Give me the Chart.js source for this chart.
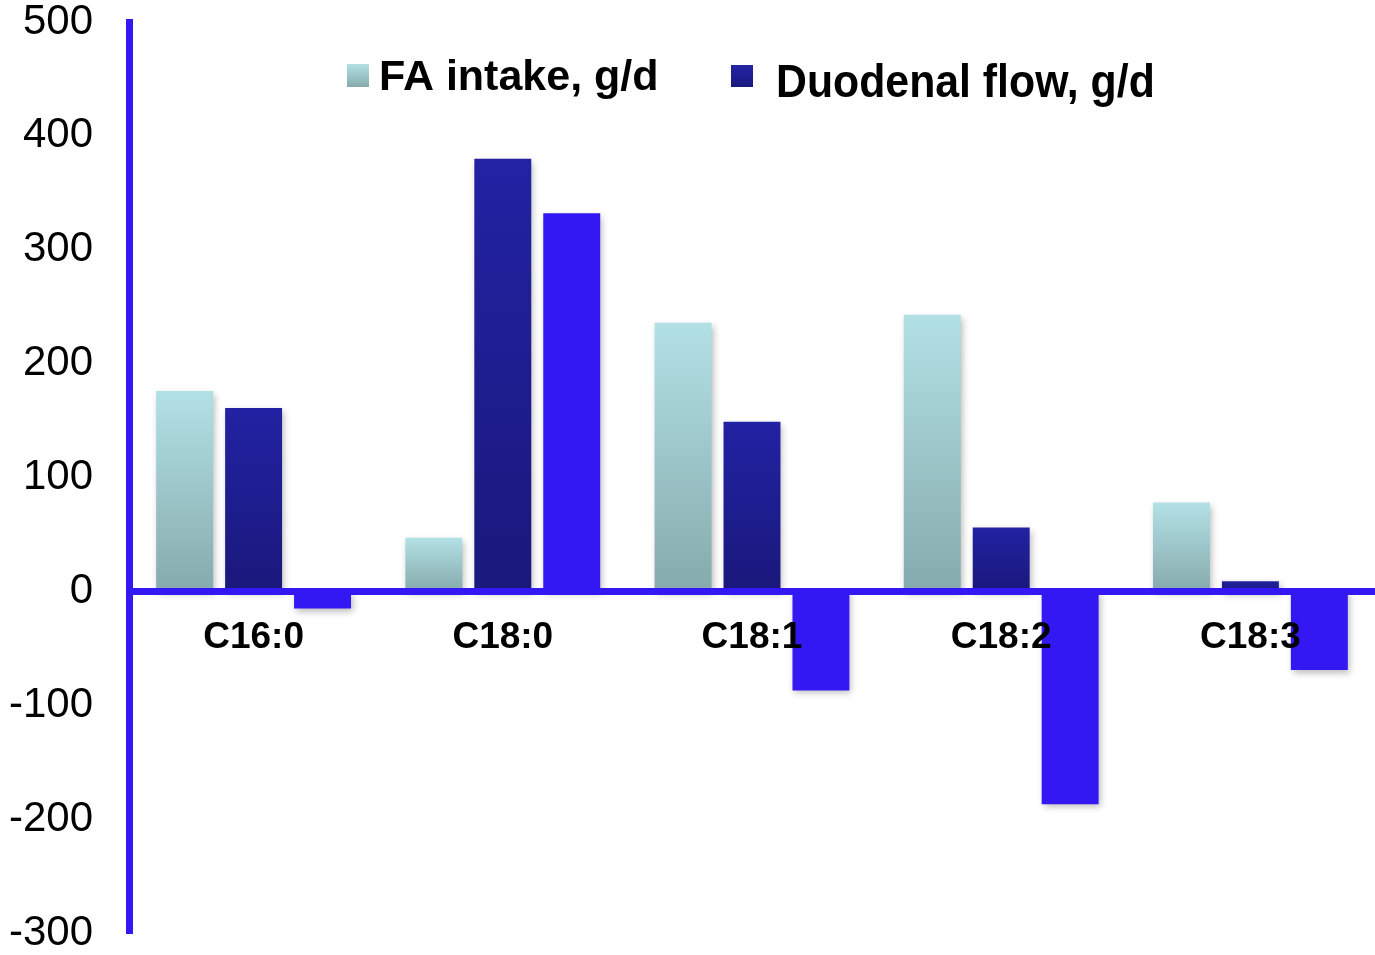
<!DOCTYPE html>
<html><head><meta charset="utf-8">
<script src="https://cdn.jsdelivr.net/npm/chart.js@4/dist/chart.umd.min.js"></script>
<style>html,body{margin:0;padding:0;background:#fff;overflow:hidden;} canvas{display:block;}</style>
</head><body>
<canvas id="c" width="1375" height="955"></canvas>
<script>
const categories = ['C16:0', 'C18:0', 'C18:1', 'C18:2', 'C18:3'];
const faIntake = [176, 47, 236, 243, 78];
const duodenalFlow = [161, 380, 149, 56, 9];
const netChange = [-15, 332, -87, -187, -69];
const yTicks = [-300, -200, -100, 0, 100, 200, 300, 400, 500];
const seriesNames = ['FA intake, g/d', 'Duodenal flow, g/d', 'Net change, g/d'];

const FONT = '"Liberation Sans", Arial, Helvetica, sans-serif';
const AXIS_BLUE = '#3418F4';

function vGrad(top, bottom) {
  return (ctx) => {
    const c = ctx.chart;
    const ys = c.scales && c.scales.y;
    if (ctx.type !== 'data' || !c.chartArea || !ys) return bottom;
    const p1 = ys.getPixelForValue(ctx.raw);
    const p0 = ys.getPixelForValue(0);
    const g = c.ctx.createLinearGradient(0, Math.min(p0, p1), 0, Math.max(p0, p1));
    g.addColorStop(0, top);
    g.addColorStop(1, bottom);
    return g;
  };
}

const shadowPlugin = {
  id: 'barShadow',
  beforeDatasetsDraw(chart) {
    const x = chart.ctx;
    x.save();
    x.shadowColor = 'rgba(0,0,0,0.28)';
    x.shadowBlur = 7;
    x.shadowOffsetX = 2;
    x.shadowOffsetY = 3;
  },
  afterDatasetsDraw(chart) { chart.ctx.restore(); }
};

const legendPlugin = {
  id: 'customLegend',
  afterDraw(chart) {
    const x = chart.ctx;
    const items = [
      { text: seriesNames[0], box: [347, 64, 22, 23], top: '#B2E1E5', bot: '#86AAAD', tx: 379, ty: 89.5, size: 43, sy: 1 },
      { text: seriesNames[1], box: [731, 65, 22, 22], top: '#2424A6', bot: '#1A187E', tx: 776, ty: 96.5, size: 42.8, sy: 1.06 }
    ];
    items.forEach(it => {
      const [bx, by, bw, bh] = it.box;
      const g = x.createLinearGradient(0, by, 0, by + bh);
      g.addColorStop(0, it.top);
      g.addColorStop(1, it.bot);
      x.save();
      x.fillStyle = g;
      x.fillRect(bx, by, bw, bh);
      x.restore();
      x.save();
      x.translate(it.tx, it.ty);
      x.scale(1, it.sy);
      x.font = 'bold ' + it.size + 'px ' + FONT;
      x.fillStyle = '#000';
      x.textBaseline = 'alphabetic';
      x.textAlign = 'left';
      x.fillText(it.text, 0, 0);
      x.restore();
    });
  }
};

new Chart(document.getElementById('c'), {
  type: 'bar',
  data: {
    labels: categories,
    datasets: [
      { label: seriesNames[0], data: faIntake, backgroundColor: vGrad('#B2E1E5', '#86AAAD'), borderWidth: 0 },
      { label: seriesNames[1], data: duodenalFlow, backgroundColor: vGrad('#2222A3', '#1A187B'), borderWidth: 0 },
      { label: seriesNames[2], data: netChange, backgroundColor: '#3418F4', borderWidth: 0 }
    ]
  },
  options: {
    responsive: false,
    animation: false,
    layout: { padding: { top: 22, bottom: 22, left: 0, right: 0 } },
    categoryPercentage: 0.83,
    barPercentage: 0.826,
    plugins: {
      legend: { display: false },
      tooltip: { enabled: false },
      title: { display: false }
    },
    scales: {
      x: {
        position: { y: 0 },
        grid: { display: false, drawTicks: false },
        border: { display: true, color: AXIS_BLUE, width: 7, z: 1 },
        ticks: { z: 2, color: '#000', font: { family: FONT, size: 37, weight: 'bold' }, padding: 24 },
        afterFit(s) { s.height = 0; s.paddingLeft = 0; s.paddingRight = 0; }
      },
      y: {
        min: -300, max: 500,
        grid: { display: false, drawTicks: false },
        border: { display: true, color: AXIS_BLUE, width: 7, z: 1 },
        ticks: { z: 1, color: '#000', font: { family: FONT, size: 42 }, padding: 36, stepSize: 100 },
        afterBuildTicks(s) { s.ticks = yTicks.map(v => ({ value: v })); },
        afterFit(s) { s.width = 129; s.paddingTop = 0; s.paddingBottom = 0; }
      }
    }
  },
  plugins: [shadowPlugin, legendPlugin]
});
</script>
</body></html>
